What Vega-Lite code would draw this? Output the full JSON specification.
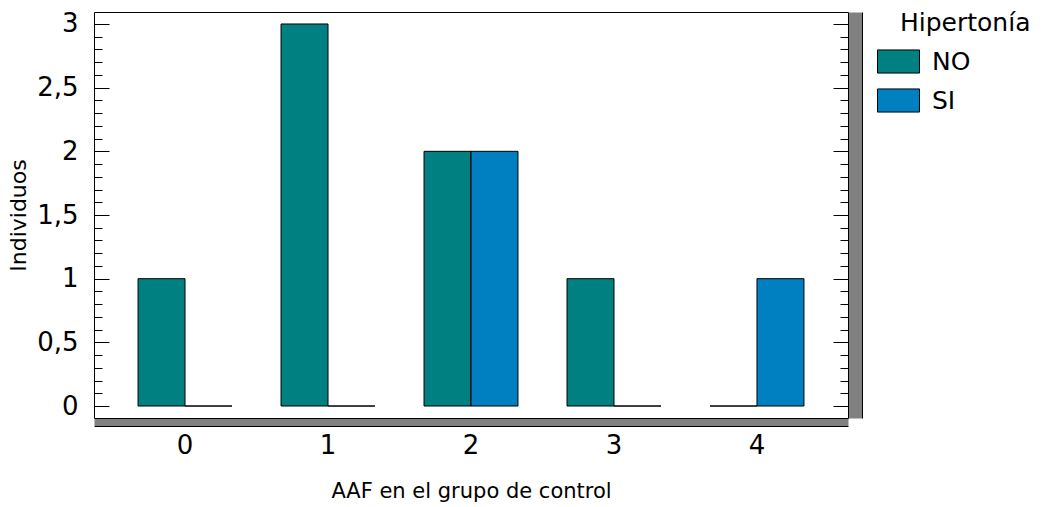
{
  "$schema": "https://vega.github.io/schema/vega-lite/v6.json",
  "autosize": "none",
  "width": 754,
  "height": 406,
  "padding": {"left": 94, "top": 12, "right": 198, "bottom": 89},
  "background": "white",
  "config": {
    "view": {"stroke": "black", "strokeWidth": 1},
    "font": "DejaVu Sans",
    "axis": {
      "labelFont": "DejaVu Sans",
      "titleFont": "DejaVu Sans",
      "labelColor": "black",
      "titleColor": "black",
      "tickColor": "black",
      "domainColor": "black",
      "titleFontWeight": "normal",
      "grid": false
    },
    "legend": {
      "labelFont": "DejaVu Sans",
      "titleFont": "DejaVu Sans",
      "labelColor": "black",
      "titleColor": "black"
    }
  },
  "data": {
    "values": [
      {"AAF": "0", "Hipertonia": "NO", "n": 1},
      {"AAF": "0", "Hipertonia": "SI", "n": 0},
      {"AAF": "1", "Hipertonia": "NO", "n": 3},
      {"AAF": "1", "Hipertonia": "SI", "n": 0},
      {"AAF": "2", "Hipertonia": "NO", "n": 2},
      {"AAF": "2", "Hipertonia": "SI", "n": 2},
      {"AAF": "3", "Hipertonia": "NO", "n": 1},
      {"AAF": "3", "Hipertonia": "SI", "n": 0},
      {"AAF": "4", "Hipertonia": "NO", "n": 0},
      {"AAF": "4", "Hipertonia": "SI", "n": 1}
    ]
  },
  "resolve": {
    "scale": {"x": "shared", "y": "shared"},
    "axis": {"x": "independent", "y": "independent"}
  },
  "layer": [
    {
      "mark": {"type": "bar", "stroke": "black", "strokeWidth": 1},
      "encoding": {
        "x": {
          "field": "AAF", "type": "nominal",
          "scale": {"paddingInner": 0.343, "paddingOuter": 0.308},
          "axis": {
            "orient": "bottom", "labelAngle": 0, "ticks": false, "domain": false,
            "labelFontSize": 26, "labelPadding": 14,
            "title": "AAF en el grupo de control", "titleFontSize": 21, "titlePadding": 22
          }
        },
        "xOffset": {"field": "Hipertonia", "type": "nominal", "scale": {"paddingInner": 0, "paddingOuter": 0}},
        "y": {
          "field": "n", "type": "quantitative",
          "scale": {"domain": [-0.094, 3.094], "nice": false, "zero": false},
          "axis": {
            "orient": "left", "values": [0, 0.5, 1, 1.5, 2, 2.5, 3],
            "tickSize": -15, "domain": false,
            "labelFontSize": 26, "labelPadding": 31,
            "labelExpr": "replace(toString(datum.value), '.', ',')",
            "title": "Individuos", "titleFontSize": 22, "titlePadding": 6
          }
        },
        "color": {
          "field": "Hipertonia", "type": "nominal",
          "scale": {"domain": ["NO", "SI"], "range": ["#008080", "#0080C0"]},
          "legend": {
            "title": "Hipertonía", "orient": "none", "legendX": 806, "legendY": -1,
            "titleFontSize": 25, "titleFontWeight": "normal", "labelFontSize": 25,
            "symbolType": "M-1,-0.55H1V0.55H-1Z", "symbolSize": 1764,
            "symbolStrokeColor": "black", "symbolStrokeWidth": 1,
            "symbolOffset": -23, "labelOffset": 12, "rowPadding": 3, "titlePadding": 4
          }
        }
      }
    },
    {
      "mark": {"type": "bar", "opacity": 0},
      "encoding": {
        "x": {
          "field": "AAF", "type": "nominal",
          "axis": {"orient": "bottom", "labels": false, "ticks": false, "title": null,
                   "domain": true, "domainColor": "#808080", "domainWidth": 7, "offset": 4}
        },
        "y": {
          "field": "n", "type": "quantitative",
          "axis": {"orient": "left", "values": [0.1,0.2,0.3,0.4,0.6,0.7,0.8,0.9,1.1,1.2,1.3,1.4,1.6,1.7,1.8,1.9,2.1,2.2,2.3,2.4,2.6,2.7,2.8,2.9],
                   "tickSize": -8, "labels": false, "domain": false, "title": null}
        }
      }
    },
    {
      "mark": {"type": "bar", "opacity": 0},
      "encoding": {
        "x": {
          "field": "AAF", "type": "nominal",
          "axis": {"orient": "bottom", "labels": false, "ticks": false, "title": null,
                   "domain": true, "domainColor": "black", "domainWidth": 1, "offset": 8}
        },
        "y": {
          "field": "n", "type": "quantitative",
          "axis": {"orient": "right", "values": [0, 0.5, 1, 1.5, 2, 2.5, 3],
                   "tickSize": -15, "labels": false, "domain": false, "title": null}
        }
      }
    },
    {
      "mark": {"type": "bar", "opacity": 0},
      "encoding": {
        "x": {"field": "AAF", "type": "nominal", "axis": null},
        "y": {
          "field": "n", "type": "quantitative",
          "axis": {"orient": "right", "values": [0.1,0.2,0.3,0.4,0.6,0.7,0.8,0.9,1.1,1.2,1.3,1.4,1.6,1.7,1.8,1.9,2.1,2.2,2.3,2.4,2.6,2.7,2.8,2.9],
                   "tickSize": -8, "labels": false, "domain": false, "title": null}
        }
      }
    },
    {
      "mark": {"type": "bar", "opacity": 0},
      "encoding": {
        "x": {"field": "AAF", "type": "nominal", "axis": null},
        "y": {
          "field": "n", "type": "quantitative",
          "axis": {"orient": "right", "ticks": false, "labels": false, "title": null,
                   "domain": true, "domainColor": "#808080", "domainWidth": 13, "offset": 7}
        }
      }
    },
    {
      "mark": {"type": "bar", "opacity": 0},
      "encoding": {
        "x": {"field": "AAF", "type": "nominal", "axis": null},
        "y": {
          "field": "n", "type": "quantitative",
          "axis": {"orient": "right", "ticks": false, "labels": false, "title": null,
                   "domain": true, "domainColor": "black", "domainWidth": 1, "offset": 14}
        }
      }
    }
  ]
}
